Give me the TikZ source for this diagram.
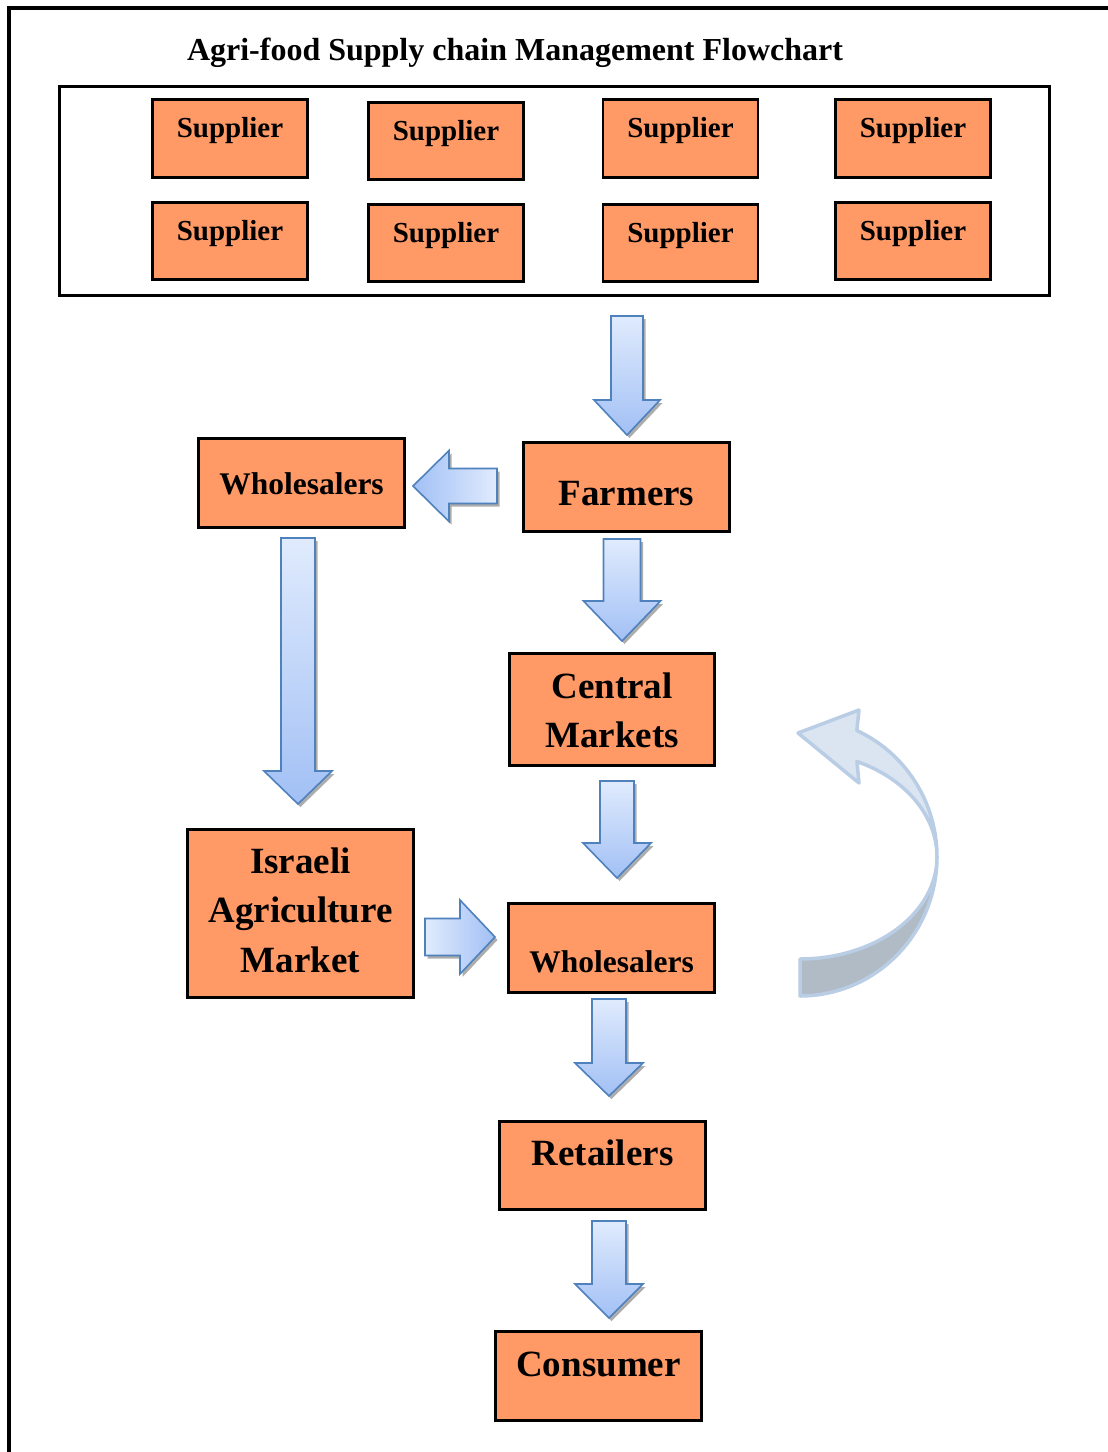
\documentclass[tikz,border=0pt]{standalone}
\usepackage{fontspec}
\setmainfont{Liberation Serif}
\usetikzlibrary{calc}

\definecolor{boxfill}{HTML}{FF9966}
\definecolor{arrowlight}{HTML}{E0EBFD}
\definecolor{arrowdark}{HTML}{A2C0F5}
\definecolor{arrowedge}{HTML}{4F81BD}
\definecolor{curvefront}{HTML}{DBE5F1}
\definecolor{curveback}{HTML}{B1BBC6}
\definecolor{curveedge}{HTML}{B9CDE5}

\tikzset{
  box/.style={rectangle, draw=black, line width=2.6pt, fill=boxfill, inner sep=0pt},
  lbl/.style={anchor=base, inner sep=0pt, align=center,
              font=\bfseries\fontsize{37}{49.5}\selectfont},
  smalllbl/.style={lbl, font=\bfseries\fontsize{29}{34}\selectfont},
  midlbl/.style={lbl, font=\bfseries\fontsize{31.5}{36}\selectfont},
  blockarrow/.style={draw=arrowedge, line width=1.6pt, line join=miter},
  arrowshadow/.style={fill=black!40, opacity=0.8},
  curvepart/.style={draw=curveedge, line width=3.5pt, line join=round},
}

% downward block arrow: centre x, top, head base, tip, shaft half width, head half width
\newcommand\flowdown[6]{%
  \path[arrowshadow, shift={(2.5,3)}]
    ({#1-#5},#2) -- ({#1+#5},#2) -- ({#1+#5},#3) -- ({#1+#6},#3) -- (#1,#4)
    -- ({#1-#6},#3) -- ({#1-#5},#3) -- cycle;
  \path[blockarrow, top color=arrowlight, bottom color=arrowdark]
    ({#1-#5},#2) -- ({#1+#5},#2) -- ({#1+#5},#3) -- ({#1+#6},#3) -- (#1,#4)
    -- ({#1-#6},#3) -- ({#1-#5},#3) -- cycle;
}
% sideways block arrow: centre y, tail x, head base x, tip x, shaft half, head half, shading
\newcommand\flowside[7]{%
  \path[arrowshadow, shift={(2.5,3)}]
    (#2,{#1-#5}) -- (#3,{#1-#5}) -- (#3,{#1-#6}) -- (#4,#1) -- (#3,{#1+#6})
    -- (#3,{#1+#5}) -- (#2,{#1+#5}) -- cycle;
  \path[blockarrow, #7]
    (#2,{#1-#5}) -- (#3,{#1-#5}) -- (#3,{#1-#6}) -- (#4,#1) -- (#3,{#1+#6})
    -- (#3,{#1+#5}) -- (#2,{#1+#5}) -- cycle;
}

\begin{document}
\begin{tikzpicture}[x=1pt, y=-1pt]
\useasboundingbox (0,0) rectangle (1108,1452);

% page frame (left and top rules)
\draw[line width=3.8pt] (9,1452) -- (9,8) -- (1108,8);

% title
\node[lbl, font=\bfseries\fontsize{32}{38}\selectfont] (title) at (515,60)
  {Agri-food Supply chain Management Flowchart};

% supplier group
\node[draw=black, line width=2.8pt, rectangle, inner sep=0pt,
      minimum width=990pt, minimum height=209pt] (suppliers) at (554.5,191) {};

\foreach \n/\cx/\cy/\by in {s11/230/138.5/137, s12/446/141/140, s13/680.5/138.5/137, s14/913/138.5/137,
                            s21/230/241/240, s22/446/243/242, s23/680.5/243/242, s24/913/241/240} {
  \node[box, minimum width=155pt, minimum height=77.5pt] (\n) at (\cx,\cy) {};
  \node[smalllbl] (\n-t) at (\n.center |- 0,\by) {Supplier};
}

% chain boxes (multi-line labels sit on the baseline of their last line)
\node[box, minimum width=206pt, minimum height=89pt] (wl) at (301.5,483) {};
\node[midlbl] (wl-t) at (wl.center |- 0,494) {Wholesalers};

\node[box, minimum width=206pt, minimum height=89pt] (farm) at (626.5,487) {};
\node[lbl] (farm-t) at (farm.center |- 0,505) {Farmers};

\node[box, minimum width=205pt, minimum height=112pt] (cm) at (612,709.5) {};
\node[lbl, font=\bfseries\fontsize{37}{49}\selectfont] (cm-t) at (cm.center |- 0,747) {Central\\Markets};

\node[box, minimum width=226pt, minimum height=168pt] (isr) at (300.5,913.5) {};
\node[lbl] (isr-t) at (isr.center |- 0,972) {Israeli\\Agriculture\\Market};

\node[box, minimum width=206pt, minimum height=89pt] (wr) at (611.5,948) {};
\node[midlbl] (wr-t) at (wr.center |- 0,972) {Wholesalers};

\node[box, minimum width=206pt, minimum height=88pt] (ret) at (602.5,1165.5) {};
\node[lbl] (ret-t) at (ret.center |- 0,1165) {Retailers};

\node[box, minimum width=206pt, minimum height=89pt] (con) at (598.5,1376) {};
\node[lbl] (con-t) at (con.center |- 0,1376) {Consumer};

% block arrows
\flowdown{627}{316}{400}{435}{16}{33}
\flowside{486}{497}{449}{413}{17.5}{35.5}{left color=arrowdark, right color=arrowlight}
\flowdown{622}{539}{601}{641}{18.5}{38.5}
\flowdown{298}{538}{771}{804}{17}{34}
\flowdown{617}{781}{843}{878}{17}{34}
\flowside{937}{425}{460}{495}{18.5}{37}{left color=arrowlight, right color=arrowdark}
\flowdown{609}{999}{1063}{1096}{17}{34}
\flowdown{609}{1221}{1284}{1318}{17}{34}

% curved return arrow: back face below, front face with head above
\path[curvepart, fill=curveback]
  plot[domain=90:0, samples=40] ({800+137*cos(\x)},{857+139*sin(\x)})
  -- plot[domain=0:90, samples=40] ({800+137*cos(\x)},{857+102*sin(\x)}) -- cycle;
\path[curvepart, fill=curvefront]
  plot[domain=0:-65.5, samples=40] ({800+137*cos(\x)},{857+139*sin(\x)})
  -- (859,710) -- (798,733) -- (859,783) -- (857,762)
  -- plot[domain=-65.5:0, samples=40] ({800+137*cos(\x)},{857+105*sin(\x)}) -- cycle;

\end{tikzpicture}
\end{document}
